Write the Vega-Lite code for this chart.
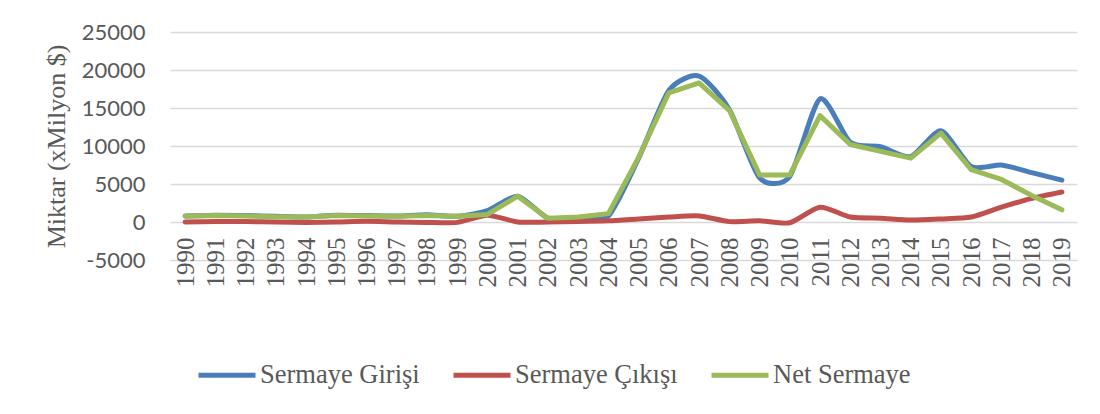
{
  "$schema": "https://vega.github.io/schema/vega-lite/v6.json",
  "width": 907,
  "height": 228,
  "autosize": {"type": "none"},
  "padding": {"left": 170, "top": 32, "right": 23, "bottom": 154},
  "background": "white",
  "config": {"view": {"stroke": null}},
  "data": {"values": [
    {"year": "1990", "series": "Sermaye Girişi", "value": 800},
    {"year": "1991", "series": "Sermaye Girişi", "value": 900},
    {"year": "1992", "series": "Sermaye Girişi", "value": 850},
    {"year": "1993", "series": "Sermaye Girişi", "value": 750},
    {"year": "1994", "series": "Sermaye Girişi", "value": 650},
    {"year": "1995", "series": "Sermaye Girişi", "value": 900},
    {"year": "1996", "series": "Sermaye Girişi", "value": 850},
    {"year": "1997", "series": "Sermaye Girişi", "value": 800},
    {"year": "1998", "series": "Sermaye Girişi", "value": 950},
    {"year": "1999", "series": "Sermaye Girişi", "value": 750},
    {"year": "2000", "series": "Sermaye Girişi", "value": 1500},
    {"year": "2001", "series": "Sermaye Girişi", "value": 3400},
    {"year": "2002", "series": "Sermaye Girişi", "value": 500},
    {"year": "2003", "series": "Sermaye Girişi", "value": 600},
    {"year": "2004", "series": "Sermaye Girişi", "value": 800},
    {"year": "2005", "series": "Sermaye Girişi", "value": 8400},
    {"year": "2006", "series": "Sermaye Girişi", "value": 17300},
    {"year": "2007", "series": "Sermaye Girişi", "value": 19200},
    {"year": "2008", "series": "Sermaye Girişi", "value": 14800},
    {"year": "2009", "series": "Sermaye Girişi", "value": 5800},
    {"year": "2010", "series": "Sermaye Girişi", "value": 6000},
    {"year": "2011", "series": "Sermaye Girişi", "value": 16200},
    {"year": "2012", "series": "Sermaye Girişi", "value": 10500},
    {"year": "2013", "series": "Sermaye Girişi", "value": 9900},
    {"year": "2014", "series": "Sermaye Girişi", "value": 8600},
    {"year": "2015", "series": "Sermaye Girişi", "value": 12000},
    {"year": "2016", "series": "Sermaye Girişi", "value": 7300},
    {"year": "2017", "series": "Sermaye Girişi", "value": 7500},
    {"year": "2018", "series": "Sermaye Girişi", "value": 6500},
    {"year": "2019", "series": "Sermaye Girişi", "value": 5500},
    {"year": "1990", "series": "Sermaye Çıkışı", "value": 0},
    {"year": "1991", "series": "Sermaye Çıkışı", "value": 50},
    {"year": "1992", "series": "Sermaye Çıkışı", "value": 50},
    {"year": "1993", "series": "Sermaye Çıkışı", "value": 0},
    {"year": "1994", "series": "Sermaye Çıkışı", "value": -50},
    {"year": "1995", "series": "Sermaye Çıkışı", "value": 0},
    {"year": "1996", "series": "Sermaye Çıkışı", "value": 100},
    {"year": "1997", "series": "Sermaye Çıkışı", "value": 0},
    {"year": "1998", "series": "Sermaye Çıkışı", "value": -50},
    {"year": "1999", "series": "Sermaye Çıkışı", "value": -50},
    {"year": "2000", "series": "Sermaye Çıkışı", "value": 900},
    {"year": "2001", "series": "Sermaye Çıkışı", "value": 0},
    {"year": "2002", "series": "Sermaye Çıkışı", "value": 0},
    {"year": "2003", "series": "Sermaye Çıkışı", "value": 50},
    {"year": "2004", "series": "Sermaye Çıkışı", "value": 150},
    {"year": "2005", "series": "Sermaye Çıkışı", "value": 400},
    {"year": "2006", "series": "Sermaye Çıkışı", "value": 650},
    {"year": "2007", "series": "Sermaye Çıkışı", "value": 800},
    {"year": "2008", "series": "Sermaye Çıkışı", "value": 50},
    {"year": "2009", "series": "Sermaye Çıkışı", "value": 150},
    {"year": "2010", "series": "Sermaye Çıkışı", "value": -100},
    {"year": "2011", "series": "Sermaye Çıkışı", "value": 1950},
    {"year": "2012", "series": "Sermaye Çıkışı", "value": 650},
    {"year": "2013", "series": "Sermaye Çıkışı", "value": 500},
    {"year": "2014", "series": "Sermaye Çıkışı", "value": 250},
    {"year": "2015", "series": "Sermaye Çıkışı", "value": 400},
    {"year": "2016", "series": "Sermaye Çıkışı", "value": 650},
    {"year": "2017", "series": "Sermaye Çıkışı", "value": 1950},
    {"year": "2018", "series": "Sermaye Çıkışı", "value": 3100},
    {"year": "2019", "series": "Sermaye Çıkışı", "value": 3950},
    {"year": "1990", "series": "Net Sermaye", "value": 750},
    {"year": "1991", "series": "Net Sermaye", "value": 850},
    {"year": "1992", "series": "Net Sermaye", "value": 800},
    {"year": "1993", "series": "Net Sermaye", "value": 700},
    {"year": "1994", "series": "Net Sermaye", "value": 650},
    {"year": "1995", "series": "Net Sermaye", "value": 850},
    {"year": "1996", "series": "Net Sermaye", "value": 800},
    {"year": "1997", "series": "Net Sermaye", "value": 750},
    {"year": "1998", "series": "Net Sermaye", "value": 850},
    {"year": "1999", "series": "Net Sermaye", "value": 750},
    {"year": "2000", "series": "Net Sermaye", "value": 1000},
    {"year": "2001", "series": "Net Sermaye", "value": 3400},
    {"year": "2002", "series": "Net Sermaye", "value": 500},
    {"year": "2003", "series": "Net Sermaye", "value": 650},
    {"year": "2004", "series": "Net Sermaye", "value": 1100},
    {"year": "2005", "series": "Net Sermaye", "value": 8500},
    {"year": "2006", "series": "Net Sermaye", "value": 17000},
    {"year": "2007", "series": "Net Sermaye", "value": 18300},
    {"year": "2008", "series": "Net Sermaye", "value": 14700},
    {"year": "2009", "series": "Net Sermaye", "value": 6200},
    {"year": "2010", "series": "Net Sermaye", "value": 6200},
    {"year": "2011", "series": "Net Sermaye", "value": 14000},
    {"year": "2012", "series": "Net Sermaye", "value": 10200},
    {"year": "2013", "series": "Net Sermaye", "value": 9300},
    {"year": "2014", "series": "Net Sermaye", "value": 8400},
    {"year": "2015", "series": "Net Sermaye", "value": 11700},
    {"year": "2016", "series": "Net Sermaye", "value": 6900},
    {"year": "2017", "series": "Net Sermaye", "value": 5600},
    {"year": "2018", "series": "Net Sermaye", "value": 3500},
    {"year": "2019", "series": "Net Sermaye", "value": 1600}
  ]},
  "encoding": {
    "x": {
      "field": "year", "type": "ordinal",
      "scale": {"type": "point", "padding": 0.5},
      "axis": {
        "title": null, "offset": -38, "domain": false, "ticks": false, "grid": false,
        "labelAngle": -90, "labelPadding": 15, "labelFont": "Liberation Serif",
        "labelFontSize": 25, "labelColor": "#595959"
      }
    },
    "y": {
      "field": "value", "type": "quantitative",
      "scale": {"domain": [-5000, 25000], "nice": false, "zero": false},
      "axis": {
        "title": "Miktar (xMilyon $)", "values": [-5000, 0, 5000, 10000, 15000, 20000, 25000],
        "labelExpr": "datum.value < 0 ? '-' + abs(datum.value) : '' + datum.value",
        "domain": false, "ticks": false,
        "gridColor": "#d9d9d9", "gridWidth": 1.5,
        "labelFont": "Lato", "labelFontSize": 22, "labelColor": "#595959", "labelPadding": 25,
        "titleFont": "Liberation Serif", "titleFontSize": 26, "titleFontWeight": "normal",
        "titleColor": "#595959", "titlePadding": 12
      }
    },
    "color": {
      "field": "series", "type": "nominal",
      "scale": {"domain": ["Sermaye Girişi", "Sermaye Çıkışı", "Net Sermaye"], "range": ["#4a7ebb", "#c0504d", "#9bbb59"]},
      "legend": {
        "title": null, "orient": "none", "legendX": 26, "legendY": 312, "direction": "horizontal",
        "symbolType": "stroke", "symbolSize": 3249, "symbolStrokeWidth": 5,
        "labelFont": "Liberation Serif", "labelFontSize": 26.5, "labelColor": "#595959",
        "labelLimit": 400, "labelOffset": 2, "columnPadding": 23
      }
    }
  },
  "layer": [
    {
      "transform": [{"filter": "datum.series !== 'Net Sermaye'"}],
      "mark": {"type": "line", "interpolate": "cardinal", "tension": 0.3, "strokeWidth": 5, "strokeCap": "round", "strokeJoin": "round"}
    },
    {
      "transform": [{"filter": "datum.series === 'Net Sermaye'"}],
      "mark": {"type": "line", "interpolate": "linear", "strokeWidth": 5, "strokeCap": "round", "strokeJoin": "round"}
    }
  ]
}
